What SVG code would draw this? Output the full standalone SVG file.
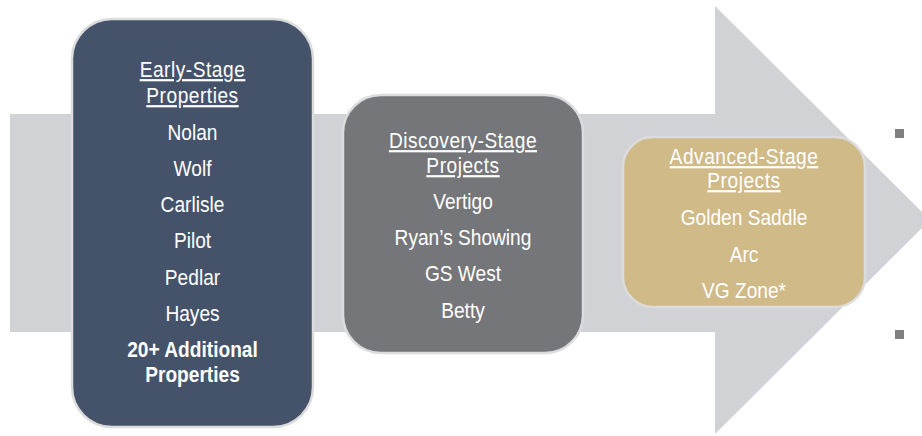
<svg xmlns="http://www.w3.org/2000/svg" width="922" height="436" viewBox="0 0 922 436">
<style>
.t{font-family:"Liberation Sans Narrow","Liberation Sans",Arial,sans-serif;font-size:22px;fill:#ffffff;text-anchor:middle}
.h{text-decoration:underline;letter-spacing:0.6px}
.b{font-weight:bold}
.box{stroke:#dcdcdc;stroke-width:2.5}
.bul{fill:#7f7f7f}
</style>
<rect width="922" height="436" fill="#ffffff"/>
<g id="arrow">
<path d="M10,114 H715 V6 L930,220 L715,434 V332 H10 Z" fill="#d1d2d6"/>
</g>
<g id="connectors"></g>
<g id="early-stage">
<rect class="box" x="72" y="19" width="241" height="408" rx="40" fill="#45536a"/>
<g transform="matrix(0.87,0,0,1,25.03,0)">
<text class="t h" x="192.5" y="77">Early-Stage</text>
<text class="t h" x="192.5" y="103">Properties</text>
<text class="t" x="192.5" y="140">Nolan</text>
<text class="t" x="192.5" y="176">Wolf</text>
<text class="t" x="192.5" y="212">Carlisle</text>
<text class="t" x="192.5" y="248">Pilot</text>
<text class="t" x="192.5" y="285">Pedlar</text>
<text class="t" x="192.5" y="321">Hayes</text>
<text class="t b" x="192.5" y="357">20+ Additional</text>
<text class="t b" x="192.5" y="382">Properties</text>
</g>
</g>
<g id="discovery-stage">
<rect class="box" x="343" y="95" width="240" height="258" rx="38" fill="#75767a"/>
<g transform="matrix(0.87,0,0,1,60.19,0)">
<text class="t h" x="463" y="148">Discovery-Stage</text>
<text class="t h" x="463" y="173">Projects</text>
<text class="t" x="463" y="209">Vertigo</text>
<text class="t" x="463" y="245">Ryan’s Showing</text>
<text class="t" x="463" y="281">GS West</text>
<text class="t" x="463" y="318">Betty</text>
</g>
</g>
<g id="advanced-stage">
<rect class="box" x="623" y="137" width="242" height="170" rx="30" fill="#cfba88"/>
<g transform="matrix(0.87,0,0,1,96.72,0)">
<text class="t h" x="744" y="164">Advanced-Stage</text>
<text class="t h" x="744" y="188">Projects</text>
<text class="t" x="744" y="225">Golden Saddle</text>
<text class="t" x="744" y="262">Arc</text>
<text class="t" x="744" y="298">VG Zone*</text>
</g>
</g>
<g id="bullets">
<rect class="bul" x="895" y="129" width="9" height="9"/>
<rect class="bul" x="895" y="330" width="9" height="9"/>
</g>
</svg>
